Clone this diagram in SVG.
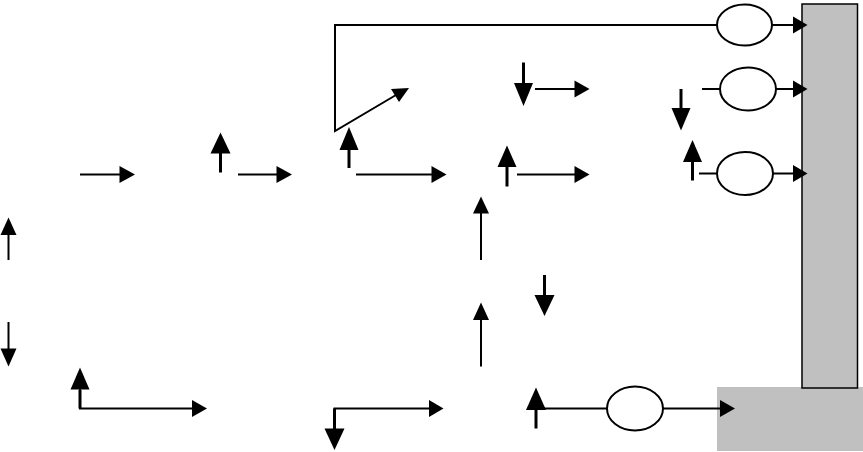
<svg xmlns="http://www.w3.org/2000/svg" width="863" height="452" viewBox="0 0 863 452">
<style>
.ln{stroke:#000;stroke-width:2;fill:none}
.tk{stroke:#000;stroke-width:3;fill:none}
.hd{fill:#000;stroke:none}
.el{fill:#fff;stroke:#000;stroke-width:2}
.wall{fill:#c0c0c0;stroke:#000;stroke-width:1.5}
.base{fill:#c0c0c0;stroke:none}
</style>
<rect width="863" height="452" fill="#fff"/>
<g id="base-block"><rect class="base" x="717" y="387" width="146" height="64"/></g>
<g id="wall"><rect class="wall" x="802" y="4" width="55.5" height="384"/></g>
<g id="ellipse-1"><ellipse class="el" cx="744.5" cy="25" rx="27.5" ry="20.5"/></g>
<g id="ellipse-2"><ellipse class="el" cx="748" cy="89" rx="28" ry="21.5"/></g>
<g id="ellipse-3"><ellipse class="el" cx="745" cy="173.5" rx="28" ry="21.5"/></g>
<g id="ellipse-4"><ellipse class="el" cx="635" cy="408.5" rx="28" ry="22"/></g>
<g id="connectors">
<!-- top loop -->
<polyline class="ln" points="717,25 335,25 335,131 396,95"/>
<polygon class="hd" points="409,88 391,89 399,102"/>
<line class="ln" x1="772" y1="25" x2="794" y2="25"/>
<polygon class="hd" points="807.5,25 793,16.5 793,33.5"/>
<line class="ln" x1="776" y1="89" x2="794" y2="89"/>
<polygon class="hd" points="807.5,89 793,80.5 793,97.5"/>
<line class="ln" x1="773" y1="173.5" x2="794" y2="173.5"/>
<polygon class="hd" points="807.5,173.5 793,165 793,182"/>
<line class="ln" x1="702" y1="89" x2="720" y2="89"/>
<line class="ln" x1="699" y1="173.5" x2="717" y2="173.5"/>
<!-- row y=174 right arrows -->
<line class="ln" x1="80" y1="174.5" x2="120" y2="174.5"/>
<polygon class="hd" points="135,174.5 119.5,166 119.5,183"/>
<line class="ln" x1="238" y1="174.5" x2="277" y2="174.5"/>
<polygon class="hd" points="292,174.5 276.5,166 276.5,183"/>
<line class="ln" x1="356" y1="174.5" x2="432" y2="174.5"/>
<polygon class="hd" points="446.5,174.5 431.5,166 431.5,183"/>
<line class="ln" x1="517" y1="174.5" x2="575" y2="174.5"/>
<polygon class="hd" points="589.5,174.5 574.5,166 574.5,183"/>
<line class="ln" x1="535" y1="89" x2="575" y2="89"/>
<polygon class="hd" points="589.5,89 574.5,80.5 574.5,97.5"/>
<!-- thick vertical arrows -->
<line class="tk" x1="220.5" y1="172.5" x2="220.5" y2="152"/>
<polygon class="hd" points="220.5,132.5 210.5,153.5 230.5,153.5"/>
<line class="tk" x1="349" y1="168" x2="349" y2="149"/>
<polygon class="hd" points="349,127 339.5,150 358.5,150"/>
<line class="tk" x1="507" y1="186.5" x2="507" y2="166"/>
<polygon class="hd" points="507,145.5 497.5,167 516.5,167"/>
<line class="tk" x1="523.5" y1="62.5" x2="523.5" y2="84"/>
<polygon class="hd" points="523.5,106 514,83 533,83"/>
<line class="tk" x1="681" y1="89" x2="681" y2="109"/>
<polygon class="hd" points="681,130.5 671.5,108 690.5,108"/>
<line class="tk" x1="692.5" y1="180.5" x2="692.5" y2="161"/>
<polygon class="hd" points="692.5,140 683,162 702,162"/>
<line class="tk" x1="544.5" y1="275" x2="544.5" y2="296"/>
<polygon class="hd" points="544.5,316 534.5,295 554.5,295"/>
<!-- thin vertical arrows -->
<line class="ln" x1="8.5" y1="260" x2="8.5" y2="234"/>
<polygon class="hd" points="8.5,217.5 0.5,235 16.5,235"/>
<line class="ln" x1="8.5" y1="322" x2="8.5" y2="349"/>
<polygon class="hd" points="8.5,366.5 0.5,348.5 16.5,348.5"/>
<line class="ln" x1="481" y1="260" x2="481" y2="212"/>
<polygon class="hd" points="481,196.5 473,213.5 489,213.5"/>
<line class="ln" x1="481" y1="366.5" x2="481" y2="319"/>
<polygon class="hd" points="481,302.5 473,320 489,320"/>
<!-- bottom row -->
<polyline class="ln" points="80,388 80,408.5 193,408.5"/>
<line class="tk" x1="80" y1="390" x2="80" y2="408.5"/>
<polygon class="hd" points="80,367.5 70.5,389.5 89.5,389.5"/>
<polygon class="hd" points="207,408.5 192,400 192,417"/>
<polyline class="ln" points="334.5,430 334.5,408.5 430,408.5"/>
<line class="tk" x1="334.5" y1="408.5" x2="334.5" y2="430"/>
<polygon class="hd" points="334.5,450 324.5,428.5 344.5,428.5"/>
<polygon class="hd" points="443.5,408.5 429,400 429,417"/>
<line class="tk" x1="536" y1="428.5" x2="536" y2="408"/>
<polygon class="hd" points="536,387.5 526,410 546,410"/>
<line class="ln" x1="543" y1="408.5" x2="607" y2="408.5"/>
<line class="ln" x1="663" y1="408.5" x2="721" y2="408.5"/>
<polygon class="hd" points="735,408.5 720,400 720,417"/>
</g>
</svg>
